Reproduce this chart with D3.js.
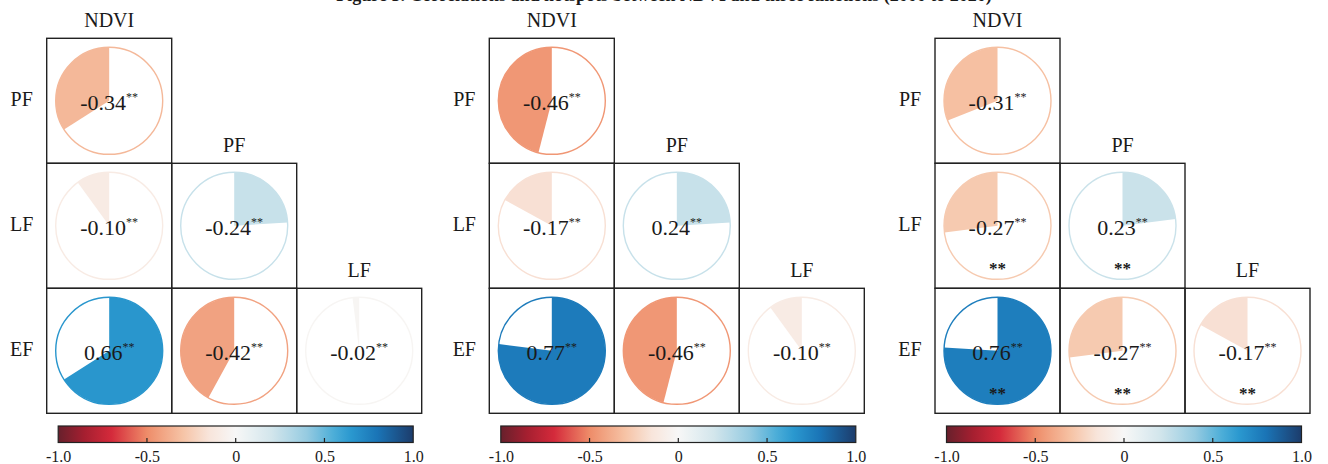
<!DOCTYPE html>
<meta charset="utf-8">
<script src="https://d3js.org/d3.v7.min.js"></script>
<style>
body { margin: 0; background: #fff; }
text { font-family: "Liberation Serif", "Times New Roman", serif; fill: #1a1a1a; }
.cell rect { fill: none; stroke: #222; stroke-width: 1.4px; }
.lab { font-size: 20px; }
.val { font-size: 22px; }
.cbar .tick text { font-size: 16px; font-family: "Liberation Serif", serif; fill: #1a1a1a; }
</style>
<body>
<svg width="1328" height="464"></svg>
<script>

// variables of the matrix
var cols = ["NDVI", "PF", "LF"];
var rows = ["PF", "LF", "EF"];

// correlation used for the pies (row by row, lower triangle)
var vals1 = [[-0.34], [-0.10, 0.24], [0.66, -0.42, -0.02]];
var vals2 = [[-0.46], [-0.17, 0.24], [0.77, -0.46, -0.10]];
var vals3 = [[-0.31], [-0.27, 0.23], [0.76, -0.27, -0.17]];

// numbers printed in the cells
var text1 = [["-0.34"], ["-0.10", "-0.24"], ["0.66", "-0.42", "-0.02"]];
var text2 = [["-0.46"], ["-0.17", "0.24"], ["0.77", "-0.46", "-0.10"]];
var text3 = [["-0.31"], ["-0.27", "0.23"], ["0.76", "-0.27", "-0.17"]];

// extra "**" under the value (hotspot significance), only in panel 3
var hot1 = [[0], [0, 0], [0, 0, 0]];
var hot2 = [[0], [0, 0], [0, 0, 0]];
var hot3 = [[0], [1, 1], [1, 1, 1]];

// colour bar
var cbTicks = [-1, -0.5, 0, 0.5, 1];
var cbLabels = ["-1.0", "-0.5", "0", "0.5", "1.0"];
var cmapStops = [-1, -0.85, -0.7, -0.5, -0.3, -0.15, 0, 0.2, 0.4, 0.55, 0.65, 0.8, 1];
var cmapColors = ["#67202c", "#a61f30", "#d42a3b", "#ee8c69", "#f6c3a5", "#f8e5db", "#f7f7f7",
                  "#d3e6ec", "#96cbe1", "#4daed8", "#2a98cf", "#1a74b6", "#1c3c6b"];

var title = "Figure 5. Correlations and hotspots between NDVI and three functions (2000 to 2020)";

var panels = [
  {x: 46.7, vals: vals1, text: text1, hot: hot1},
  {x: 489.3, vals: vals2, text: text2, hot: hot2},
  {x: 935, vals: vals3, text: text3, hot: hot3}
];

var svg = d3.select("svg");
var top0 = 38.3, size = 375, r = 53.5;

var color = d3.scaleLinear().domain(cmapStops).range(cmapColors).interpolate(d3.interpolateRgb);

var x = d3.scaleBand().domain(cols).range([0, size]);
var y = d3.scaleBand().domain(rows).range([0, size]);

svg.append("text")
    .attr("x", 664)
    .attr("y", 0.5)
    .attr("text-anchor", "middle")
    .style("font-size", "18px")
    .style("font-weight", "bold")
    .text(title);

// gradient for the colour bar
var grad = svg.append("defs").append("linearGradient")
    .attr("id", "cmap")
    .attr("x1", "0%").attr("x2", "100%").attr("y1", "0%").attr("y2", "0%");
grad.selectAll("stop")
  .data(d3.range(0, 41).map(function(i) { return -1 + i / 20; }))
  .enter().append("stop")
    .attr("offset", function(d) { return ((d + 1) / 2 * 100) + "%"; })
    .attr("stop-color", function(d) { return color(d); });

var arc = d3.arc().innerRadius(0).outerRadius(r).startAngle(0);

panels.forEach(function(p) {
  var g = svg.append("g").attr("transform", "translate(" + p.x + "," + top0 + ")");

  // build cell list for the lower triangle
  var cells = [];
  rows.forEach(function(rn, i) {
    cols.forEach(function(cn, j) {
      if (j <= i) cells.push({row: rn, col: cn, v: p.vals[i][j], t: p.text[i][j], hot: p.hot[i][j]});
    });
  });

  var cell = g.selectAll(".cell")
    .data(cells)
    .enter().append("g")
      .attr("class", "cell")
      .attr("transform", function(d) { return "translate(" + x(d.col) + "," + y(d.row) + ")"; });

  cell.append("rect")
      .attr("width", x.bandwidth())
      .attr("height", y.bandwidth());

  var c = cell.append("g")
      .attr("transform", "translate(" + x.bandwidth() / 2 + "," + y.bandwidth() / 2 + ")");

  c.append("path")
      .attr("d", function(d) { return arc({endAngle: d.v * 2 * Math.PI}); })
      .attr("fill", function(d) { return color(d.v); });

  c.append("circle")
      .attr("r", r)
      .attr("fill", "none")
      .attr("stroke", function(d) { return color(d.v); })
      .attr("stroke-width", 1.4);

  var t = c.append("text")
      .attr("class", "val")
      .attr("text-anchor", "middle")
      .attr("y", 9);
  t.append("tspan").text(function(d) { return d.t; });
  t.append("tspan")
      .attr("dy", -9)
      .style("font-size", "12px")
      .text("**");

  c.filter(function(d) { return d.hot; })
    .append("text")
      .attr("text-anchor", "middle")
      .attr("y", 48)
      .style("font-size", "17px")
      .style("font-weight", "bold")
      .text("**");

  // column headers (on top of the diagonal cells)
  g.selectAll(".colLab")
    .data(cols)
    .enter().append("text")
      .attr("class", "lab")
      .attr("text-anchor", "middle")
      .attr("x", function(d) { return x(d) + x.bandwidth() / 2; })
      .attr("y", function(d, i) { return y(rows[i]) - 11; })
      .text(function(d) { return d; });

  // row labels
  g.selectAll(".rowLab")
    .data(rows)
    .enter().append("text")
      .attr("class", "lab")
      .attr("text-anchor", "middle")
      .attr("x", -25)
      .attr("y", function(d) { return y(d) + y.bandwidth() / 2 + 5; })
      .text(function(d) { return d; });

  // colour bar
  var cb = svg.append("g")
      .attr("class", "cbar")
      .attr("transform", "translate(" + (p.x + 11.5) + ",426)");
  var cx = d3.scaleLinear().domain([-1, 1]).range([0, 355]);

  cb.append("rect")
      .attr("width", 355)
      .attr("height", 16.5)
      .attr("fill", "url(#cmap)")
      .attr("stroke", "#222")
      .attr("stroke-width", 1.2);

  cb.selectAll(".mark")
    .data(cbTicks.filter(function(d) { return Math.abs(d) < 1; }))
    .enter().append("line")
      .attr("x1", function(d) { return cx(d); })
      .attr("x2", function(d) { return cx(d); })
      .attr("y1", 16.5)
      .attr("y2", 12)
      .attr("stroke", "#222")
      .attr("stroke-width", 1.2);

  var ax = cb.append("g")
      .attr("transform", "translate(0,16.5)")
      .call(d3.axisBottom(cx)
        .tickValues(cbTicks)
        .tickSize(0)
        .tickPadding(8)
        .tickFormat(function(d, i) { return cbLabels[i]; }));
  ax.select(".domain").remove();
  ax.selectAll("text").attr("dy", "0.71em");
});

</script>
</body>
